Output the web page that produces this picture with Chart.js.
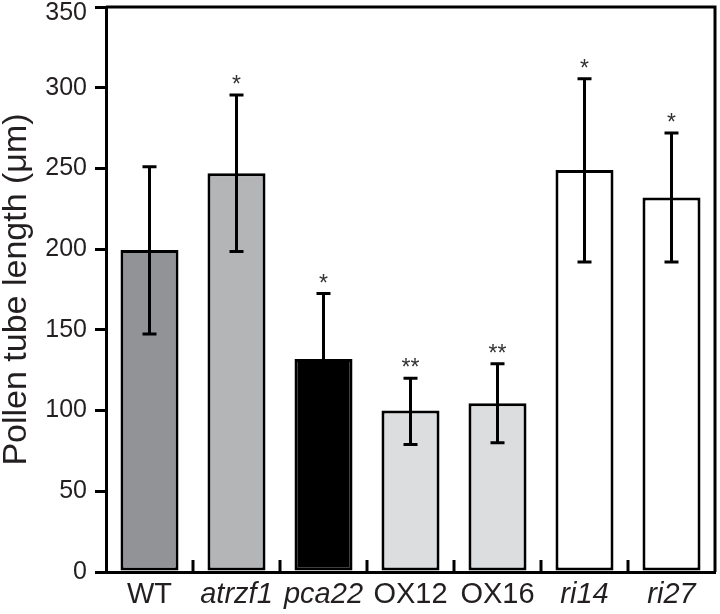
<!DOCTYPE html>
<html>
<head>
<meta charset="utf-8">
<script src="https://cdn.jsdelivr.net/npm/chart.js@4"></script>
<style>
  html, body { margin: 0; padding: 0; background: #fff; }
  #wrap { width: 720px; height: 614px; }
</style>
</head>
<body>
<div id="wrap"><canvas id="chart"></canvas></div>
<script>
// data
const categories = ['WT', 'atrzf1', 'pca22', 'OX12', 'OX16', 'ri14', 'ri27'];
const italicIdx = [1, 2, 5, 6];
const means = [199.5, 247, 132, 100, 104.5, 249, 232];
const errHigh = [251, 295.5, 172.5, 120, 129, 305.5, 272];
const errLow = [147.5, 198.5, 91, 79, 80, 192, 192];
const marks = ['', '*', '*', '**', '**', '*', '*'];
const barColors = ['#929397', '#b4b5b7', '#000000', '#dcdddf', '#dcdddf', '#ffffff', '#ffffff'];
const yTicks = [0, 50, 100, 150, 200, 250, 300, 350];

const FONT = "'Liberation Sans', Arial, Helvetica, sans-serif";
const INK = '#231f20';

// error bars, significance stars, inward x ticks and the box frame
const extras = {
    id: 'extras',
    afterDatasetsDraw(chart) {
        const ctx = chart.ctx;
        const x = chart.scales.x, y = chart.scales.y;
        const area = chart.chartArea;
        ctx.save();
        ctx.strokeStyle = '#000';
        ctx.lineWidth = 3;
        ctx.lineCap = 'butt';
        categories.forEach((c, i) => {
            const px = x.getPixelForValue(i);
            const top = y.getPixelForValue(errHigh[i]);
            const bot = y.getPixelForValue(errLow[i]);
            ctx.beginPath();
            ctx.moveTo(px, top);
            ctx.lineTo(px, bot);
            ctx.moveTo(px - 7, top);
            ctx.lineTo(px + 7, top);
            ctx.moveTo(px - 7, bot);
            ctx.lineTo(px + 7, bot);
            ctx.stroke();
            if (marks[i]) {
                ctx.fillStyle = '#333';
                ctx.font = '23px ' + FONT;
                ctx.textAlign = 'center';
                ctx.textBaseline = 'alphabetic';
                ctx.fillText(marks[i], px, top - 3);
            }
        });
        // small ticks between categories, pointing up from the axis
        for (let i = 1; i < categories.length; i++) {
            const bx = (x.getPixelForValue(i - 1) + x.getPixelForValue(i)) / 2;
            ctx.beginPath();
            ctx.moveTo(bx, area.bottom);
            ctx.lineTo(bx, area.bottom - 12);
            ctx.stroke();
        }
        // top and right frame lines
        ctx.beginPath();
        ctx.moveTo(area.left, area.top);
        ctx.lineTo(area.right, area.top);
        ctx.lineTo(area.right, area.bottom);
        ctx.stroke();
        ctx.restore();
    }
};

new Chart(document.getElementById('chart'), {
    type: 'bar',
    data: {
        labels: categories,
        datasets: [{
            data: means,
            backgroundColor: barColors,
            borderColor: '#000',
            borderWidth: 3,
            borderSkipped: false,
            categoryPercentage: 1,
            barPercentage: 0.667
        }]
    },
    options: {
        responsive: true,
        maintainAspectRatio: false,
        animation: false,
        layout: { padding: { top: 7, right: 5, left: 0, bottom: 0 } },
        plugins: {
            legend: { display: false },
            tooltip: { enabled: false }
        },
        scales: {
            x: {
                grid: { display: true, drawOnChartArea: false, drawTicks: false },
                border: { display: true, color: '#000', width: 3 },
                ticks: {
                    color: INK,
                    padding: 6,
                    font: (c) => ({
                        family: FONT,
                        size: 29,
                        style: italicIdx.includes(c.index) ? 'italic' : 'normal'
                    })
                },
                afterFit: (s) => { s.height = 42; s.paddingLeft = 0; s.paddingRight = 0; }
            },
            y: {
                min: 0,
                max: 350,
                afterBuildTicks: (s) => { s.ticks = yTicks.map(v => ({ value: v })); },
                grid: { drawOnChartArea: false, drawTicks: true, tickLength: 11, color: '#000', lineWidth: 3 },
                border: { display: true, color: '#000', width: 3 },
                ticks: {
                    color: INK,
                    padding: 8,
                    // top label sits a little lower so it stays on the canvas
                    callback: (v) => v === 350 ? ['', '350'] : String(v),
                    font: (c) => ({
                        family: FONT,
                        size: 25,
                        lineHeight: c.index === yTicks.length - 1 ? 0.5 : 1.2
                    })
                },
                title: {
                    display: true,
                    text: 'Pollen tube length (μm)',
                    color: INK,
                    padding: { top: 0, bottom: 0 },
                    font: { family: FONT, size: 34, lineHeight: 1 }
                },
                afterFit: (s) => { s.width = 106; s.paddingTop = 0; s.paddingBottom = 0; }
            }
        }
    },
    plugins: [extras]
});
</script>
</body>
</html>
